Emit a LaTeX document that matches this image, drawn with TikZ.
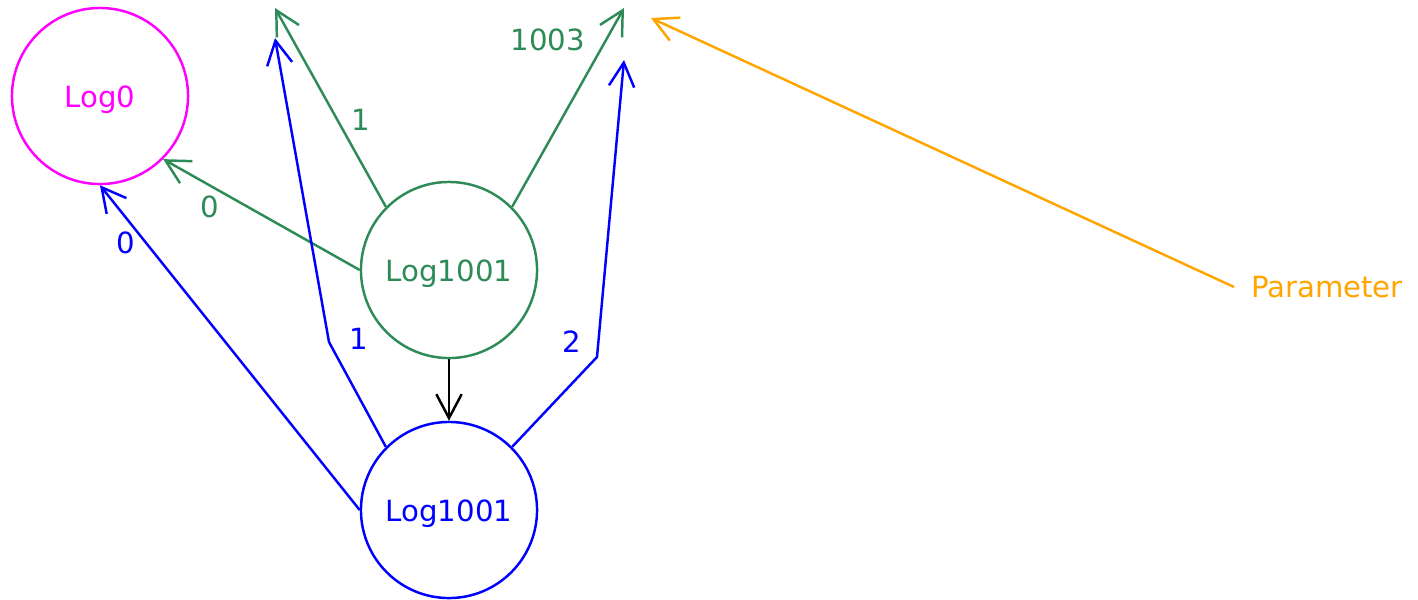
\documentclass[tikz,border=0pt]{standalone}
\usepackage{fontspec}
\setmainfont{DejaVu Sans}
\usetikzlibrary{arrows.meta}
\definecolor{sgreen}{RGB}{46,139,87}
\definecolor{lorange}{RGB}{255,165,0}
\definecolor{pmag}{RGB}{255,0,255}

\begin{document}
\begin{tikzpicture}[x=0.01cm, y=-0.01cm, line width=0.7pt,
  every node/.style={font=\fontsize{8.3pt}{10pt}\selectfont},
  state/.style={circle, draw, minimum size=1.76cm, inner sep=0pt, text height=8pt},
  link/.style={-{Straight Barb[length=6.8pt,width=7.2pt]}},
  lbl/.style={inner sep=0pt}]
\useasboundingbox (0,0) rectangle (1418,599);

% states
\node[state, draw=pmag, text=pmag] (log0) at (100,96) {Log0};
\node[state, draw=sgreen, text=sgreen] (gA) at (449,270) {Log1001};
\node[state, draw=blue, text=blue] (bA) at (449,510) {Log1001};
\node[anchor=west, inner sep=4.5pt, text=lorange] (par) at (1234,287) {Parameter};

% free ends and bends
\coordinate (gT1) at (275,8);
\coordinate (gT2) at (624,8);
\coordinate (bT1) at (275,38);
\coordinate (bT2) at (624,60);
\coordinate (bK1) at (329,342);
\coordinate (bK2) at (597,357);
\coordinate (pT) at (651,18);

% green edges
\draw[link, sgreen] (gA.180) -- (log0.-45);
\draw[link, sgreen] (gA.135) -- (gT1);
\draw[link, sgreen] (gA.45) -- (gT2);

% blue edges
\draw[link, blue] (bA.180) -- (log0.270);
\draw[link, blue] (bA.135) -- (bK1) -- (bT1);
\draw[link, blue] (bA.45) -- (bK2) -- (bT2);

% black edge
\draw[link, black] (gA.270) -- (bA.90);

% orange edge
\draw[link, lorange] (par.west) -- (pT);

% labels
\node[lbl, text=sgreen] (lg0) at (210,207) {0};
\node[lbl, text=sgreen] (lg1) at (361,120) {1};
\node[lbl, text=sgreen] (lg2) at (548,40) {1003};
\node[lbl, text=blue] (lb0) at (126,243) {0};
\node[lbl, text=blue] (lb1) at (359,339) {1};
\node[lbl, text=blue] (lb2) at (572,342) {2};
\end{tikzpicture}
\end{document}
